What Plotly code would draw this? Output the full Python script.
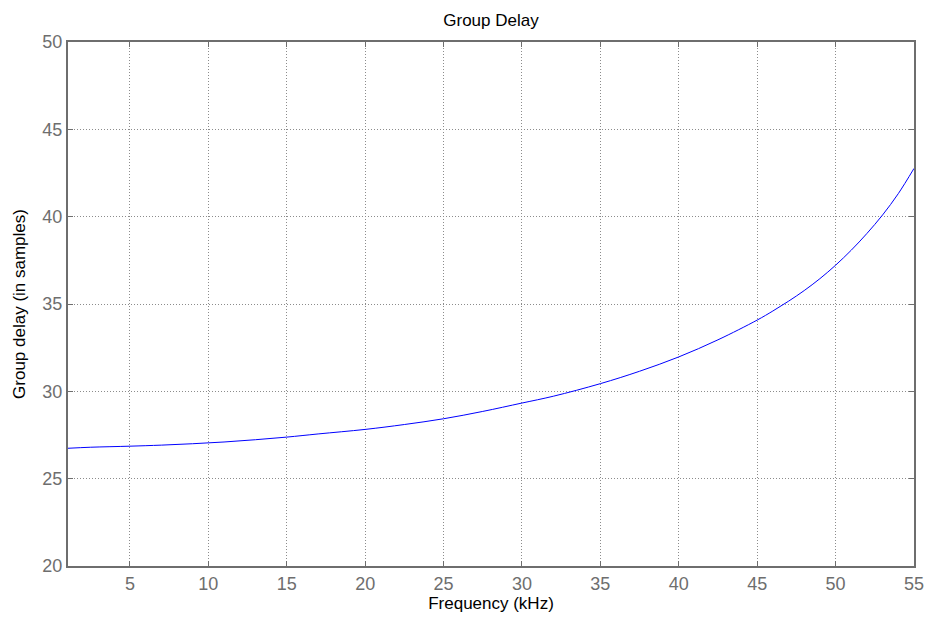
import plotly.graph_objects as go

freq_khz = [1.05, 2.5, 5, 7, 9, 11, 13, 15, 17, 20, 22.5, 25, 27.5, 30, 32, 35, 37.5, 40,
            42.5, 45, 46, 47, 48, 49, 50, 51, 52, 53, 54, 55]
group_delay = [26.74, 26.80, 26.86, 26.92, 27.00, 27.10, 27.23, 27.38, 27.56, 27.82, 28.10,
               28.43, 28.85, 29.33, 29.72, 30.44, 31.15, 31.97, 32.95, 34.08, 34.60, 35.16,
               35.77, 36.45, 37.22, 38.08, 39.04, 40.10, 41.32, 42.76]
x_ticks = [5, 10, 15, 20, 25, 30, 35, 40, 45, 50, 55]
y_ticks = [20, 25, 30, 35, 40, 45, 50]

FONT = "Liberation Sans, Arial, sans-serif"

fig = go.Figure()
fig.add_trace(go.Scatter(x=freq_khz, y=group_delay, mode="lines", line_shape="spline",
                         line=dict(color="#0000ff", width=1), showlegend=False))

axis_common = dict(
    showline=True, linecolor="#6e6e6e", linewidth=2, mirror="ticks",
    ticks="inside", ticklen=5, tickcolor="#6e6e6e", tickwidth=1,
    showgrid=True, gridcolor="#8c8c8c", griddash="1px,2px", gridwidth=1,
    zeroline=False,
    tickfont=dict(family=FONT, size=18, color="#6e6e6e"),
    title_font=dict(family=FONT, size=17, color="#000000"),
)

fig.update_xaxes(range=[1.05, 55.001], tickvals=x_ticks, title_text="Frequency (kHz)",
                 title_standoff=2, ticklabeloverflow="allow", **axis_common)
fig.update_yaxes(range=[20, 50], tickvals=y_ticks, title_text="Group delay (in samples)",
                 title_standoff=12, **axis_common)

fig.update_layout(
    width=923, height=607,
    margin=dict(l=60, r=7, t=34, b=49),
    plot_bgcolor="white", paper_bgcolor="white",
    title=dict(text="Group Delay", x=0.5, xref="paper", xanchor="center",
               y=1 - 12 / 607, yanchor="middle",
               font=dict(family=FONT, size=17, color="#000000")),
)

fig.write_html("out.html")
